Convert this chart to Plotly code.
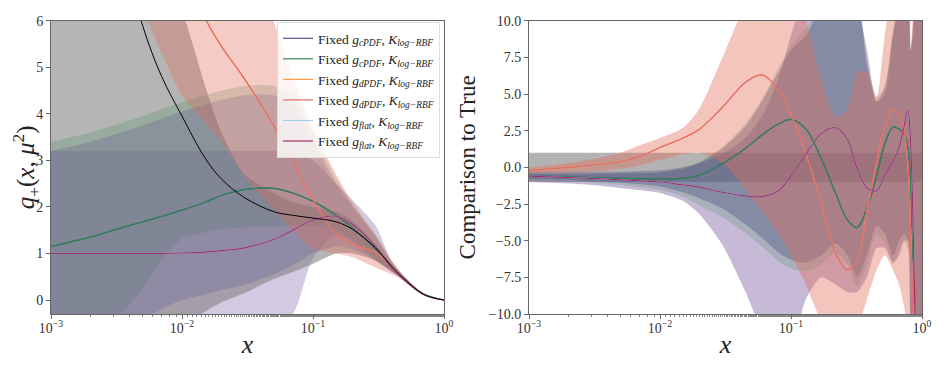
import plotly.graph_objects as go

# ---------------- left panel: q+(x, mu^2) ----------------
x_left = [0.001, 0.002, 0.003, 0.005, 0.007, 0.01, 0.015, 0.02, 0.03, 0.05,
          0.07, 0.1, 0.15, 0.2, 0.3, 0.4, 0.5, 0.7, 1.0]

true_left = [17, 10.7, 8.3, 5.9, 4.8, 3.95, 3.05, 2.6, 2.2, 1.9,
             1.82, 1.76, 1.68, 1.52, 1.12, 0.72, 0.45, 0.12, 0.0]
cpdf_left = [1.15, 1.35, 1.5, 1.68, 1.8, 1.93, 2.1, 2.25, 2.37, 2.4,
             2.3, 2.12, 1.82, 1.55, 1.1, 0.72, 0.45, 0.13, 0.0]
dpdf_left = [28, 18, 13.5, 10, 8.5, 7.2, 6.05, 5.45, 4.75, 3.75,
             3.0, 2.15, 1.42, 1.2, 1.02, 0.72, 0.45, 0.12, 0.0]
flat_left = [1.0, 1.0, 1.0, 1.0, 1.0, 1.01, 1.03, 1.06, 1.12, 1.3,
             1.5, 1.72, 1.8, 1.62, 1.15, 0.68, 0.42, 0.12, 0.0]

flat_band_left_hi = [3.2, 3.2, 3.2, 3.2, 3.2, 3.2, 3.2, 3.2, 3.2, 3.2,
                     3.15, 3.0, 2.5, 2.15, 1.6, 0.82, 0.5, 0.13, 0.0]
flat_band_left_lo = [-1.2, -1.2, -1.2, -1.2, -1.15, -1.1, -1.0, -0.9, -0.75, -0.5,
                     -0.3, 0.9, 1.4, 1.25, 0.85, 0.6, 0.42, 0.1, 0.0]
true_band_left_hi = [16, 12, 10, 8, 7, 6.2, 4.6, 3.6, 2.7, 2.3,
                     2.1, 2.0, 1.9, 1.7, 1.2, 0.75, 0.47, 0.12, 0.0]
true_band_left_lo = [-3, -2.2, -1.7, -1.1, -0.8, -0.55, -0.25, -0.05, 0.15, 0.45,
                     0.6, 0.78, 1.0, 1.0, 0.85, 0.62, 0.43, 0.11, 0.0]
cpdf_g_band_left_hi = [3.4, 3.6, 3.75, 3.95, 4.1, 4.25, 4.4, 4.5, 4.6, 4.6,
                       4.4, 3.6, 2.6, 2.05, 1.4, 0.83, 0.5, 0.13, 0.0]
cpdf_g_band_left_lo = [-1.1, -0.7, -0.45, 0.25, 0.85, 1.33, 1.45, 1.52, 1.56, 1.58,
                       1.6, 1.6, 1.5, 1.3, 0.9, 0.62, 0.42, 0.11, 0.0]
cpdf_p_band_left_hi = [3.2, 3.4, 3.55, 3.75, 3.9, 4.05, 4.2, 4.3, 4.4, 4.4,
                       4.2, 3.4, 2.5, 2.0, 1.35, 0.8, 0.5, 0.13, 0.0]
cpdf_p_band_left_lo = [-2, -1.3, -0.95, -0.45, -0.2, 0.0, 0.12, 0.22, 0.33, 0.55,
                       0.75, 1.0, 1.15, 1.1, 0.85, 0.62, 0.43, 0.11, 0.0]
dpdf_band_left_hi = [40, 30, 25, 20, 17, 14, 11, 9.5, 8, 6.0,
                     4.8, 3.7, 2.7, 2.1, 1.4, 0.85, 0.5, 0.13, 0.0]
dpdf_band_left_lo = [15, 11, 8.5, 6.3, 5.3, 4.4, 3.8, 3.4, 2.65, 1.95,
                     1.5, 1.1, 1.0, 0.92, 0.7, 0.55, 0.42, 0.11, 0.0]

# ---------------- right panel: comparison to true ----------------
x_right = [0.001, 0.002, 0.003, 0.005, 0.007, 0.01, 0.015, 0.02, 0.03, 0.045,
           0.06, 0.08, 0.1, 0.13, 0.17, 0.22, 0.27, 0.32, 0.38, 0.45,
           0.52, 0.6, 0.67, 0.73, 0.78, 0.82, 0.86, 0.9, 0.95, 1.0]

dpdf_right = [-0.2, 0.0, 0.15, 0.4, 0.75, 1.35, 2.0, 2.6, 4.1, 5.8,
              6.3, 5.3, 3.6, 0.9, -2.4, -5.9, -7.0, -6.3, -3.0, 0.3,
              2.8, 4.0, 3.5, 2.4, 0.3, -4.5, -11, -14, -15, -15]
cpdf_right = [-0.6, -0.65, -0.7, -0.75, -0.78, -0.8, -0.75, -0.55, 0.25, 1.3,
              2.2, 2.95, 3.27, 2.6, 0.6, -1.8, -3.6, -4.1, -2.8, -0.6,
              1.6, 2.75, 2.6, 2.3, 1.4, -1.5, -6.5, -11, -15, -15]
flat_right = [-0.6, -0.7, -0.75, -0.85, -0.92, -1.0, -1.2, -1.35, -1.7, -1.95,
              -2.0, -1.6, -0.6, 0.9, 2.3, 2.7, 1.9, -0.1, -1.4, -1.6,
              -0.5, 0.4, 1.4, 2.8, 3.9, 1.5, -5, -12, -15, -15]

gray_band_right_hi = [1.0] * 30
gray_band_right_lo = [-1.0] * 30
flat_band_right_hi = [-0.3, -0.3, -0.3, -0.3, -0.25, -0.2, 0.0, 0.3, 0.9, 2.0,
                      3.5, 6, 9, 12, 13, 13, 12, 11, 8, 4.5,
                      5.5, 9, 12, 13, 12, 8, 9, 12, 12, 12]
flat_band_right_lo = [-1.0, -1.1, -1.2, -1.4, -1.55, -1.75, -2.3, -3.2, -5.3, -8.5,
                      -11, -12, -12, -9, -7.5, -8, -8.5, -8.5, -7.5, -5.5,
                      -5.5, -6.5, -6, -5, -5, -11, -12, -12, -12, -12]
cpdf_band_right_hi = [-0.45, -0.45, -0.45, -0.42, -0.4, -0.35, -0.1, 0.3, 1.3, 2.8,
                      4.5, 6.5, 8, 9, 11, 12, 12, 11.5, 7, 4.5,
                      5.0, 9, 11, 12, 12, 8, 10, 12, 12, 12]
cpdf_band_right_lo = [-0.8, -0.85, -0.95, -1.05, -1.15, -1.3, -1.7, -2.1, -2.8, -3.9,
                      -4.8, -5.8, -6.3, -6.5, -6, -5.2, -6, -7.5, -6, -4,
                      -4.5, -6, -5, -4.5, -5, -11, -12, -12, -12, -12]
cpdfg_band_right_hi = [-0.4, -0.4, -0.4, -0.35, -0.3, -0.25, 0.0, 0.4, 1.4, 3.0,
                       4.7, 6.8, 8.3, 9.5, 11, 12, 12, 11.5, 7.5, 4.8,
                       5.5, 9.5, 11, 12, 12, 8, 10, 12, 12, 12]
cpdfg_band_right_lo = [-0.9, -0.95, -1.05, -1.2, -1.35, -1.55, -2.0, -2.6, -3.4, -4.5,
                       -5.4, -6.4, -6.9, -7.1, -6.6, -5.8, -6.6, -8.1, -6.6, -4.6,
                       -5.1, -6.6, -5.6, -5.1, -5.6, -11, -12, -12, -12, -12]
dpdf_band_right_hi = [0.0, 0.3, 0.55, 1.0, 1.5, 2.0, 2.7, 4.0, 7.5, 11,
                      12, 12, 12, 10, 6, 3.4, 4.0, 6.5, 6.5, 4.8,
                      9, 12, 12, 12, 11, 8, 11, 12, 12, 12]
dpdf_band_right_lo = [-0.4, -0.35, -0.3, -0.1, 0.15, 0.5, 0.9, 1.0, 0.3, -1.5,
                      -3, -4.5, -6, -8, -10.5, -12, -12, -11, -9, -7,
                      -6, -7, -8, -9.5, -11, -12, -12, -12, -12, -12]

labels = [
    "Fixed <i>g<sub>cPDF</sub></i>, <i>K<sub>log−RBF</sub></i>",
    "Fixed <i>g<sub>cPDF</sub></i>, <i>K<sub>log−RBF</sub></i>",
    "Fixed <i>g<sub>dPDF</sub></i>, <i>K<sub>log−RBF</sub></i>",
    "Fixed <i>g<sub>dPDF</sub></i>, <i>K<sub>log−RBF</sub></i>",
    "Fixed <i>g<sub>flat</sub></i>, <i>K<sub>log−RBF</sub></i>",
    "Fixed <i>g<sub>flat</sub></i>, <i>K<sub>log−RBF</sub></i>",
]
line_colors = ["#5b4a9e", "#2a8a4e", "#ff9f45", "#e06a70", "#9fd3ee", "#a0306e"]

fig = go.Figure()


def band(x, lo, hi, color, xa, ya):
    fig.add_trace(go.Scatter(x=x, y=hi, mode="lines",
                             line=dict(width=0, shape="spline", smoothing=0.7),
                             showlegend=False, hoverinfo="skip", xaxis=xa, yaxis=ya))
    fig.add_trace(go.Scatter(x=x, y=lo, mode="lines",
                             line=dict(width=0, shape="spline", smoothing=0.7),
                             fill="tonexty", fillcolor=color, showlegend=False,
                             hoverinfo="skip", xaxis=xa, yaxis=ya))


# left bands
band(x_left, flat_band_left_lo, flat_band_left_hi, "rgba(120,90,160,0.33)", "x", "y")
band(x_left, true_band_left_lo, true_band_left_hi, "rgba(128,128,128,0.58)", "x", "y")
band(x_left, cpdf_g_band_left_lo, cpdf_g_band_left_hi, "rgba(70,140,90,0.25)", "x", "y")
band(x_left, cpdf_p_band_left_lo, cpdf_p_band_left_hi, "rgba(90,80,150,0.25)", "x", "y")
band(x_left, dpdf_band_left_lo, dpdf_band_left_hi, "rgba(225,110,90,0.35)", "x", "y")

# right bands
band(x_right, gray_band_right_lo, gray_band_right_hi, "rgba(128,128,128,0.6)", "x2", "y2")
band(x_right, flat_band_right_lo, flat_band_right_hi, "rgba(120,90,160,0.42)", "x2", "y2")
band(x_right, cpdfg_band_right_lo, cpdfg_band_right_hi, "rgba(70,140,90,0.22)", "x2", "y2")
band(x_right, cpdf_band_right_lo, cpdf_band_right_hi, "rgba(80,80,130,0.38)", "x2", "y2")
band(x_right, dpdf_band_right_lo, dpdf_band_right_hi, "rgba(225,110,90,0.4)", "x2", "y2")

# left lines
left_series = [cpdf_left, cpdf_left, dpdf_left, dpdf_left, flat_left, flat_left]
for ys, name, col in zip(left_series, labels, line_colors):
    fig.add_trace(go.Scatter(x=x_left, y=ys, mode="lines", name=name,
                             line=dict(color=col, width=1.2, shape="spline"),
                             xaxis="x", yaxis="y"))
fig.add_trace(go.Scatter(x=x_left, y=true_left, mode="lines", showlegend=False,
                         line=dict(color="black", width=1, shape="spline"),
                         xaxis="x", yaxis="y"))

# right lines
right_series = [cpdf_right, cpdf_right, dpdf_right, dpdf_right, flat_right, flat_right]
for ys, col in zip(right_series, line_colors):
    fig.add_trace(go.Scatter(x=x_right, y=ys, mode="lines", showlegend=False,
                             line=dict(color=col, width=1.2, shape="spline"),
                             xaxis="x2", yaxis="y2"))

font = "Liberation Serif, Times New Roman, serif"
tickvals = [0.001, 0.01, 0.1, 1]
ticktext = ["10<sup>−3</sup>", "10<sup>−2</sup>", "10<sup>−1</sup>", "10<sup>0</sup>"]
xcommon = dict(type="log", range=[-3, 0], tickvals=tickvals, ticktext=ticktext,
               showline=True, mirror=True, linecolor="#666", linewidth=1,
               ticks="outside", ticklen=4, tickcolor="#666", showgrid=False,
               zeroline=False, automargin=False, tickfont=dict(size=14, color="#333"),
               ticklabelstandoff=-3,
               minor=dict(ticks="outside", ticklen=2, tickcolor="#888", showgrid=False),
               title=dict(text="<i>x</i>", font=dict(size=26, color="#222"), standoff=0))
ycommon = dict(showline=True, mirror=True, linecolor="#666", linewidth=1,
               ticks="outside", ticklen=4, tickcolor="#666", showgrid=False,
               zeroline=False, automargin=False, tickfont=dict(size=14, color="#333"))

# the page body adds an 8 px offset, so the figure is 8 px smaller than the window
W, H = 939, 360

fig.update_layout(
    width=W, height=H,
    margin=dict(l=0, r=0, t=0, b=0),
    plot_bgcolor="white", paper_bgcolor="white",
    font=dict(family=font),
    xaxis=dict(domain=[43 / W, 436 / W], anchor="y", **xcommon),
    yaxis=dict(domain=[1 - 306 / H, 1 - 12.7 / H], anchor="x", range=[-0.3, 6],
               tickvals=[0, 1, 2, 3, 4, 5, 6],
               title=dict(text="<i>q</i><sub>+</sub>(<i>x</i>, <i>μ</i><sup>2</sup>)",
                          font=dict(size=25, color="#222"), standoff=6),
               **ycommon),
    xaxis2=dict(domain=[521 / W, 914 / W], anchor="y2", **xcommon),
    yaxis2=dict(domain=[1 - 306 / H, 1 - 12.7 / H], anchor="x2", range=[-10, 10],
                tickvals=[-10, -7.5, -5, -2.5, 0, 2.5, 5, 7.5, 10],
                ticktext=["−10.0", "−7.5", "−5.0", "−2.5", "0.0", "2.5", "5.0", "7.5", "10.0"],
                title=dict(text="Comparison to True", font=dict(size=23, color="#222"),
                           standoff=6),
                **ycommon),
    legend=dict(x=432 / W, y=1 - 14 / H, xanchor="right", yanchor="top",
                traceorder="normal",
                bgcolor="rgba(255,255,255,0.8)", bordercolor="#ddd", borderwidth=1,
                font=dict(size=13.5, family=font, color="#222"),
                itemwidth=30, tracegroupgap=0),
)

fig.write_html("out.html")
